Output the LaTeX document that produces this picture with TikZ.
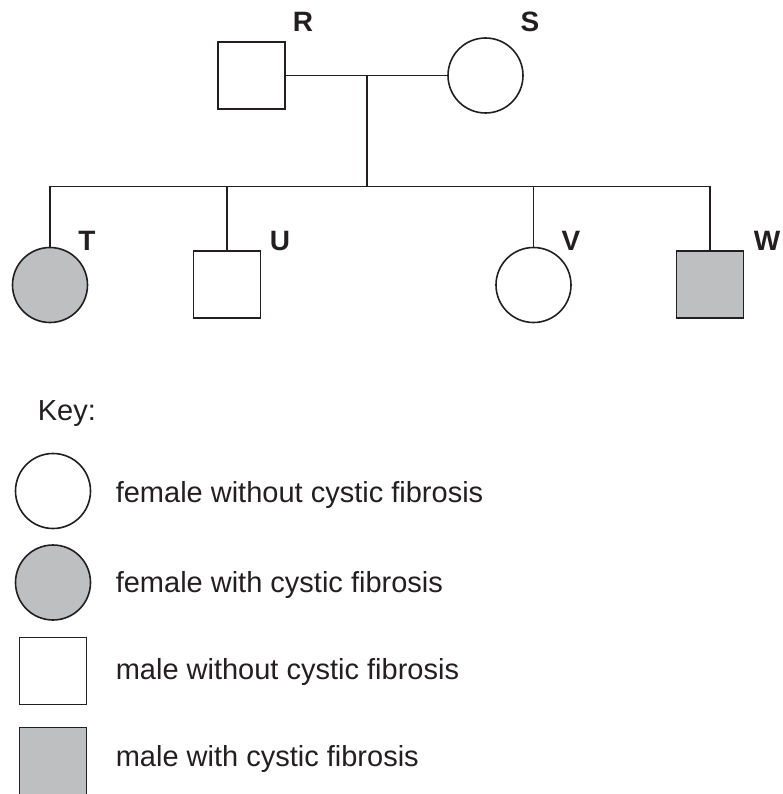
\documentclass[tikz,border=0pt]{standalone}
\usepackage{fontspec}
\setmainfont{Liberation Sans}
\definecolor{cfgray}{RGB}{190,191,193}
\definecolor{ink}{RGB}{35,31,32}
\begin{document}
\begin{tikzpicture}[x=1pt,y=-1pt,line width=1.6pt,color=ink,
  male/.style={draw=ink,rectangle,minimum size=67pt,inner sep=0pt,line width=1.6pt},
  female/.style={draw=ink,circle,minimum size=75pt,inner sep=0pt,line width=1.6pt},
  affected/.style={fill=cfgray},
  plabel/.style={font=\fontsize{28}{32}\selectfont\bfseries,text=ink,anchor=base,inner sep=0pt},
  keytext/.style={font=\fontsize{29}{34}\selectfont,text=ink,anchor=base west,inner sep=0pt}]
\useasboundingbox (0,0) rectangle (783,794);
% parents
\node[male] (R) at (251.5,75.5) {};
\node[female] (S) at (485.5,75.5) {};
\node[plabel] (lR) at (303,32) {R};
\node[plabel] (lS) at (530,32) {S};
% children
\node[female,affected] (T) at (50,285) {};
\node[male] (U) at (227,284.5) {};
\node[female] (V) at (533.5,285) {};
\node[male,affected] (W) at (710,284.5) {};
\node[plabel] (lT) at (87,250) {T};
\node[plabel] (lU) at (280,250) {U};
\node[plabel] (lV) at (571,250) {V};
\node[plabel] (lW) at (767,250) {W};
% connectors
\coordinate (m) at (367,75.5);
\coordinate (sib) at (367,186.5);
\draw[ink] (R.east) -- (S.west);
\draw[ink] (m) -- (sib);
\draw[ink] (T.north |- sib) -- (W.north |- sib);
\draw[ink] (T.north |- sib) -- (T.north);
\draw[ink] (U.north |- sib) -- (U.north);
\draw[ink] (V.north |- sib) -- (V.north);
\draw[ink] (W.north |- sib) -- (W.north);
% key
\node[keytext] (key) at (37,420) {Key:};
\node[female] (k1) at (53,491) {};
\node[female,affected] (k2) at (53,582.5) {};
\node[male] (k3) at (53,671) {};
\node[male,affected] (k4) at (53,761) {};
\node[keytext] (t1) at (115,502) {female without cystic fibrosis};
\node[keytext] (t2) at (115,592) {female with cystic fibrosis};
\node[keytext] (t3) at (115,679) {male without cystic fibrosis};
\node[keytext] (t4) at (115,766) {male with cystic fibrosis};
\end{tikzpicture}
\end{document}
